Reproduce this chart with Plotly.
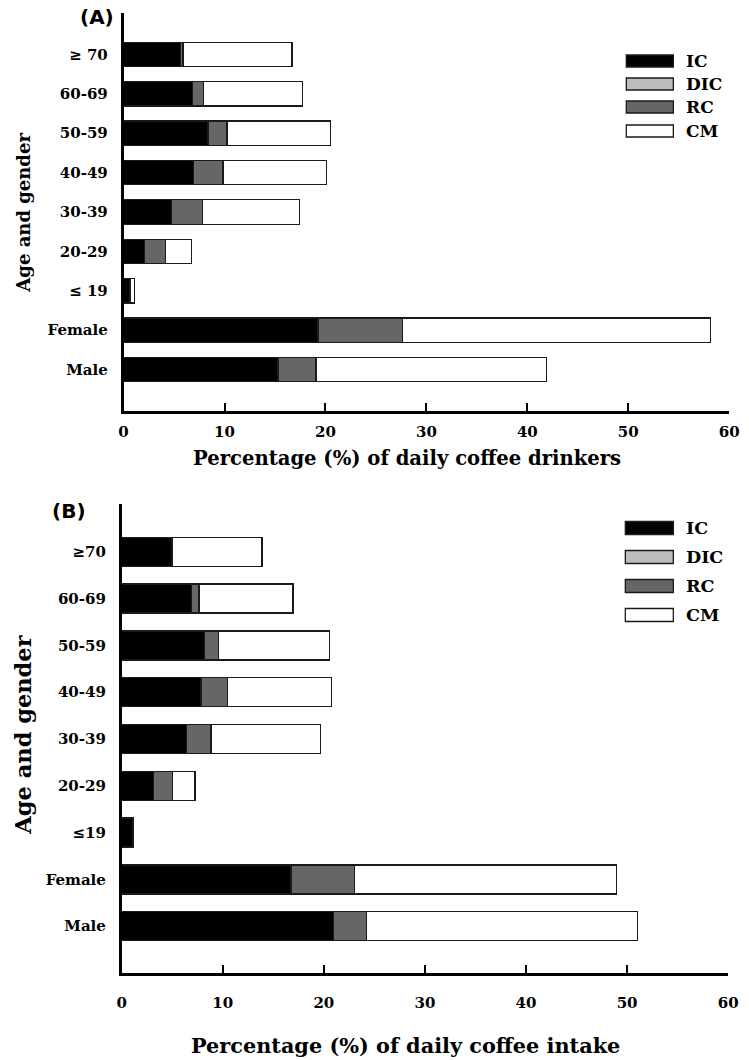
import plotly.graph_objects as go

W, H = 749, 1060

categories_a = ["≥ 70", "60-69", "50-59", "40-49", "30-39", "20-29", "≤ 19", "Female", "Male"]
categories_b = ["≥70", "60-69", "50-59", "40-49", "30-39", "20-29", "≤19", "Female", "Male"]

# Panel A: percentage of daily coffee drinkers
ic_a = [5.65, 6.8, 8.35, 6.9, 4.75, 2.05, 0.65, 19.2, 15.3]
dic_a = [0.0, 0.0, 0.0, 0.0, 0.0, 0.0, 0.0, 0.1, 0.0]
rc_a = [0.25, 1.1, 1.9, 2.95, 3.05, 2.1, 0.05, 8.3, 3.75]
cm_a = [10.8, 9.8, 10.25, 10.25, 9.6, 2.55, 0.35, 30.55, 22.85]

# Panel B: percentage of daily coffee intake
ic_b = [4.9, 6.9, 8.2, 7.85, 6.4, 3.15, 1.05, 16.75, 20.95]
dic_b = [0.0, 0.0, 0.0, 0.0, 0.0, 0.0, 0.0, 0.0, 0.0]
rc_b = [0.15, 0.75, 1.35, 2.6, 2.45, 1.9, 0.0, 6.3, 3.3]
cm_b = [8.85, 9.3, 11.0, 10.3, 10.8, 2.2, 0.15, 25.9, 26.8]

series_names = ["IC", "DIC", "RC", "CM"]
series_colors = ["#000000", "#bdbdbd", "#666666", "#ffffff"]
x_ticks = [0, 10, 20, 30, 40, 50, 60]

SERIF = "DejaVu Serif"
SANS = "DejaVu Sans"


def px_x(x):
    return x / W


def px_y(y):
    return 1 - y / H


fig = go.Figure()

panels = [
    ("x", "y", categories_a, [ic_a, dic_a, rc_a, cm_a]),
    ("x2", "y2", categories_b, [ic_b, dic_b, rc_b, cm_b]),
]
for xa, ya, cats, vals in panels:
    for name, color, v in zip(series_names, series_colors, vals):
        fig.add_trace(go.Bar(
            y=cats, x=v, name=name, orientation="h",
            marker=dict(color=color, line=dict(color="#1a1a1a", width=1.3)),
            width=0.62, xaxis=xa, yaxis=ya, showlegend=False,
            hoverinfo="x+y+name",
        ))

common_x = dict(
    range=[0, 60], tickvals=x_ticks, ticks="inside", ticklen=8, tickwidth=2,
    tickcolor="black", showline=True, linecolor="black", linewidth=2.5,
    showgrid=False, zeroline=False,
    tickfont=dict(family=SERIF, size=15, color="black", weight="bold"),
)
common_y = dict(
    showline=True, linecolor="black", linewidth=2.5, showgrid=False,
    ticks="", zeroline=False,
    tickfont=dict(family=SERIF, size=15, color="black", weight="bold"),
)

fig.update_layout(
    width=W, height=H, margin=dict(l=0, r=0, t=0, b=0),
    paper_bgcolor="white", plot_bgcolor="white",
    barmode="stack", bargap=0.38,
    xaxis=dict(domain=[px_x(121), px_x(739)], anchor="y", ticklabelstandoff=5, **common_x),
    yaxis=dict(domain=[px_y(411), px_y(13)], anchor="x",
               categoryorder="array", categoryarray=categories_a[::-1],
               range=[-1.05, 9.05], ticklabelstandoff=10, **common_y),
    xaxis2=dict(domain=[px_x(119), px_x(738)], anchor="y2", ticklabelstandoff=14, **common_x),
    yaxis2=dict(domain=[px_y(973), px_y(504)], anchor="x2",
                categoryorder="array", categoryarray=categories_b[::-1],
                range=[-1.0, 9.02], ticklabelstandoff=10, **common_y),
)

annotations = []
shapes = []


def label(text, x, y, size, family=SERIF, angle=0, xanchor="center"):
    annotations.append(dict(text=text, x=px_x(x), y=px_y(y), xref="paper", yref="paper",
                            xanchor=xanchor, yanchor="middle", textangle=angle,
                            showarrow=False, font=dict(family=family, size=size, color="black")))


# Panel labels
label("<b>(A)</b>", 94, 17, 20, family=SANS)
label("<b>(B)</b>", 65, 511, 20, family=SANS)

# Axis titles
label("<b>Percentage (%) of daily coffee drinkers</b>", 410, 458, 19.6)
label("<b>Percentage (%) of daily coffee intake</b>", 409, 1045, 20.8)
label("<b>Age and gender</b>", 18, 213, 18, angle=-90)
label("<b>Age and gender</b>", 18, 735, 22.5, angle=-90)

# Legends (drawn manually to match the wide swatches)
legend_rows = [
    (634, 682, [61, 84, 107, 131], 12, 17),
    (633, 682, [528, 557, 586, 615], 13, 17.5),
]
for x0, x1, rows, hgt, fsize in legend_rows:
    for name, color, yc in zip(series_names, series_colors, rows):
        shapes.append(dict(type="rect", xref="paper", yref="paper",
                           x0=px_x(x0), x1=px_x(x1), y0=px_y(yc + hgt / 2), y1=px_y(yc - hgt / 2),
                           fillcolor=color, line=dict(color="#1a1a1a", width=1.3)))
        label(f"<b>{name}</b>", x1 + 11, yc, fsize, xanchor="left")

fig.update_layout(annotations=annotations, shapes=shapes)

fig.write_html("out.html", config={"displayModeBar": False},
               post_script="document.body.style.margin='0';document.body.style.padding='0';")
